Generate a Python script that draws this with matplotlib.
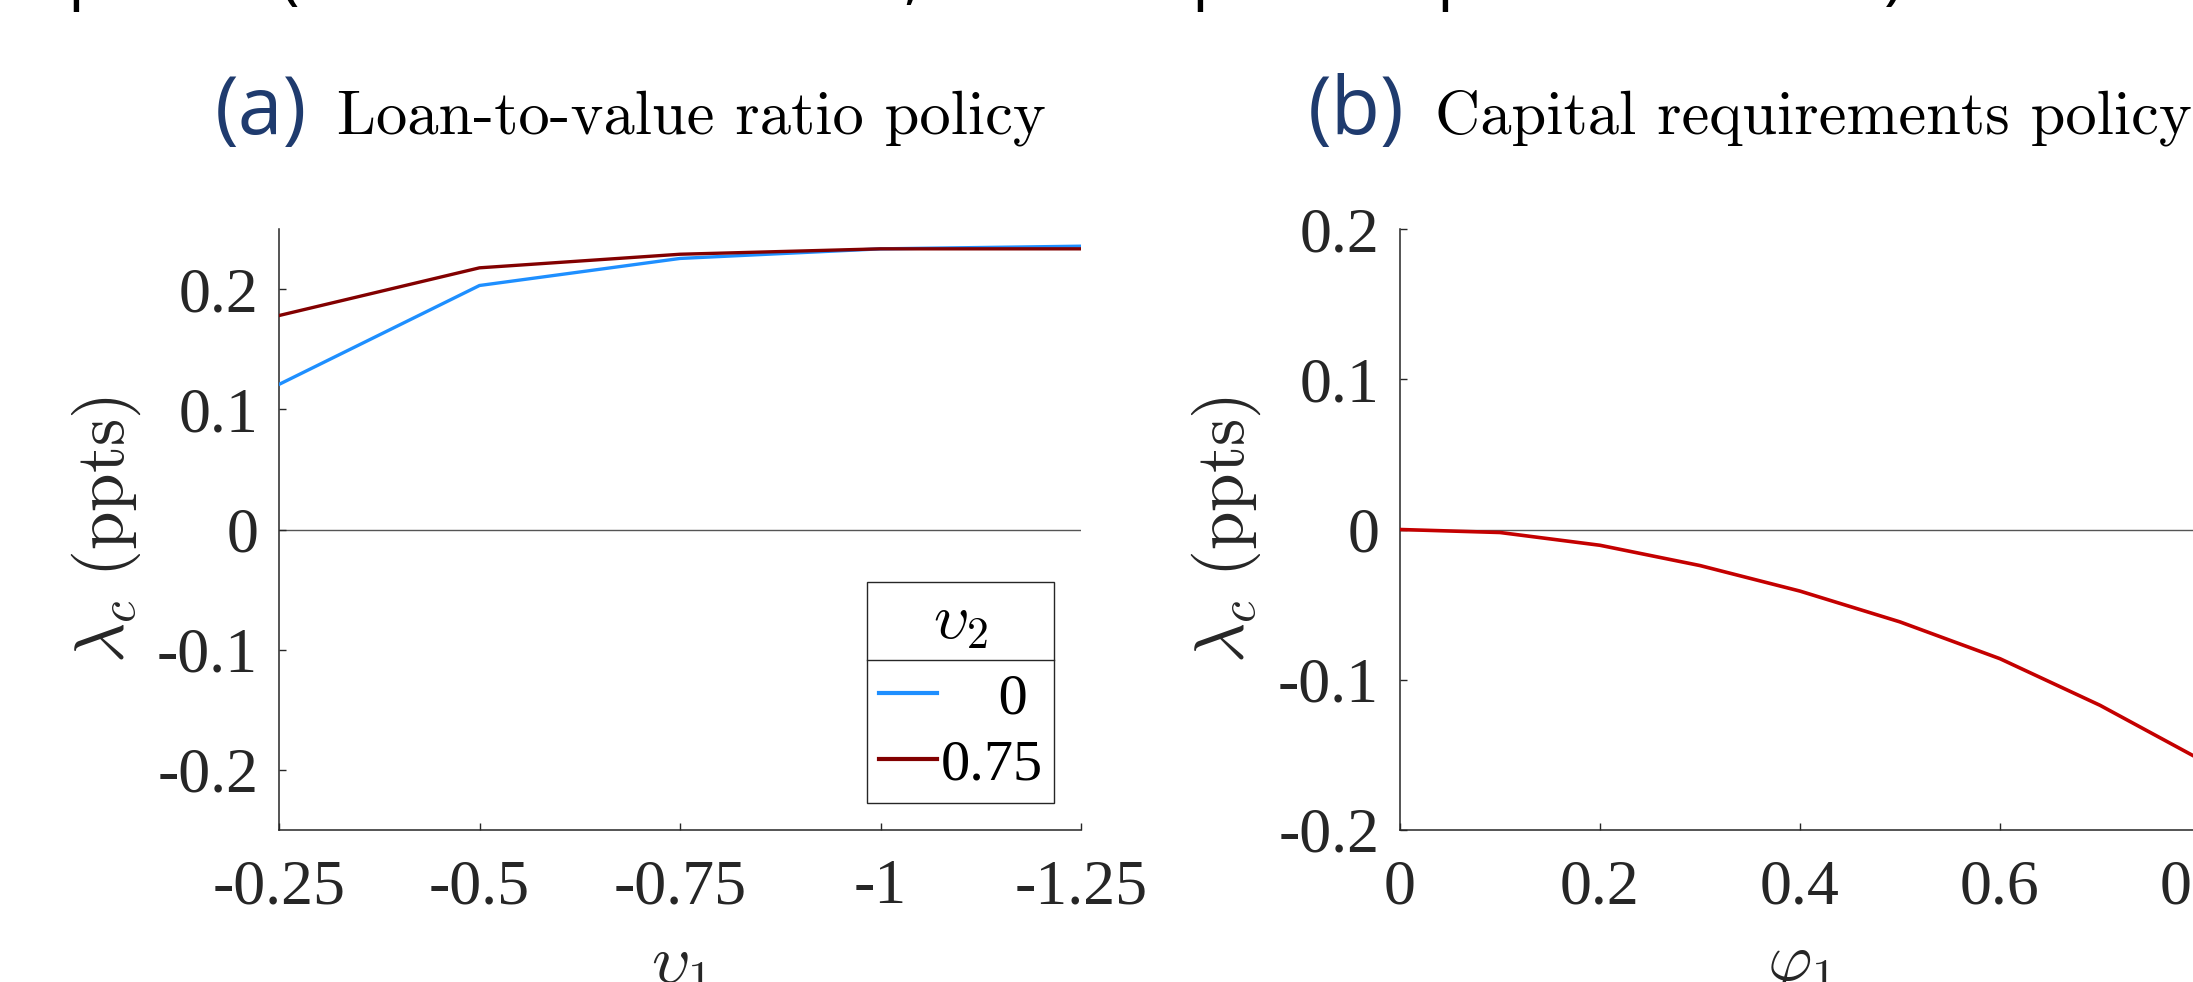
import matplotlib
matplotlib.use('Agg')
import matplotlib.pyplot as plt
from matplotlib.lines import Line2D

plt.rcParams['font.family'] = ['Liberation Serif', 'DejaVu Serif']
plt.rcParams['mathtext.fontset'] = 'cm'
plt.rcParams['axes.unicode_minus'] = False

# ---------------- data ----------------
ltv_v1 = [-0.25, -0.5, -0.75, -1.0, -1.25]
ltv_v2_values = [0, 0.75]
ltv_lambda_v2_0 = [0.1207, 0.203, 0.2255, 0.2335, 0.2357]
ltv_lambda_v2_075 = [0.178, 0.2177, 0.229, 0.2335, 0.2335]

cap_phi1 = [0.0, 0.1, 0.2, 0.3, 0.4, 0.5, 0.6, 0.7, 0.8]
cap_lambda = [0.0, -0.002, -0.0105, -0.024, -0.041, -0.0615, -0.086, -0.117, -0.153]

left_xticks = [-0.25, -0.5, -0.75, -1.0, -1.25]
left_xticklabels = ['-0.25', '-0.5', '-0.75', '-1', '-1.25']
left_yticks = [-0.2, -0.1, 0.0, 0.1, 0.2]
left_yticklabels = ['-0.2', '-0.1', '0', '0.1', '0.2']
right_xticks = [0.0, 0.2, 0.4, 0.6, 0.8]
right_xticklabels = ['0', '0.2', '0.4', '0.6', '0.8']
right_yticks = [-0.2, -0.1, 0.0, 0.1, 0.2]
right_yticklabels = ['-0.2', '-0.1', '0', '0.1', '0.2']

panel_tags = ['(a)', '(b)']
panel_titles = ['Loan-to-value ratio policy', 'Capital requirements policy']
ylabel_text = r'$\lambda_c\ (\mathrm{ppts})$'
xlabels = [r'$\upsilon_1$', r'$\varphi_1$']
legend_title = r'$\upsilon_2$'

# cropped header line (only the descenders are visible in the image)
header_glyphs = ['p', '(', ',', 'p', 'p', ')']
header_x_px = [67, 279, 903, 1191, 1436, 1884]

# ---------------- style ----------------
W, H = 2193, 982
AX_COL = '#262626'
BLUE = '#1E8FFF'
DARKRED = '#820000'
RED = '#C40000'
TAG_COL = '#1f3b6e'

fig = plt.figure(figsize=(W / 100, H / 100), dpi=100)
fig.patch.set_facecolor('white')

axL = fig.add_axes([279 / W, 1 - 830 / H, (1081 - 279) / W, (830 - 229) / H])
axR = fig.add_axes([1400 / W, 1 - 830 / H, (2200 - 1400) / W, (830 - 229) / H])


def style(ax):
    for s in ['top', 'right']:
        ax.spines[s].set_visible(False)
    for s in ['left', 'bottom']:
        ax.spines[s].set_color(AX_COL)
        ax.spines[s].set_linewidth(1.1)
    ax.tick_params(direction='in', length=5, width=1.0, color=AX_COL,
                   labelsize=46, labelcolor=AX_COL)
    ax.tick_params(axis='x', pad=21)
    ax.tick_params(axis='y', pad=15)
    ax.set_facecolor('white')


# ---- left panel ----
axL.axhline(0, color='#555555', lw=1.0, zorder=1)
l0, = axL.plot(ltv_v1, ltv_lambda_v2_0, color=BLUE, lw=2.4, zorder=3)
l1, = axL.plot(ltv_v1, ltv_lambda_v2_075, color=DARKRED, lw=2.4, zorder=4)
axL.set_xlim(-0.25, -1.25)
axL.set_ylim(-0.25, 0.25)
axL.set_xticks(left_xticks)
axL.set_xticklabels(left_xticklabels)
axL.set_yticks(left_yticks)
axL.set_yticklabels(left_yticklabels)
style(axL)

# ---- right panel ----
axR.axhline(0, color='#555555', lw=1.0, zorder=1)
axR.plot(cap_phi1, cap_lambda, color=RED, lw=2.6, zorder=3)
axR.set_xlim(0, 0.8)
axR.set_ylim(-0.2, 0.2)
axR.set_xticks(right_xticks)
axR.set_xticklabels(right_xticklabels)
axR.set_yticks(right_yticks)
axR.set_yticklabels(right_yticklabels)
style(axR)

# axis labels
for ax, xl, ylx in [(axL, xlabels[0], (106 - 279) / 802), (axR, xlabels[1], (1226 - 1400) / 800)]:
    ax.set_ylabel(ylabel_text, fontsize=50, color=AX_COL)
    ax.yaxis.label.set_verticalalignment('center')
    ax.yaxis.set_label_coords(ylx, 0.5)
    ax.set_xlabel(xl, fontsize=49, color=AX_COL)
    ax.xaxis.set_label_coords(0.5, -0.176)

# legend
labels = [f'{v:g}' for v in ltv_v2_values]
width = max(len(s) for s in labels)
labels = ['\u2007' * ((width - len(s)) * 2 // 3) + s for s in labels]
leg = axL.legend([l0, l1], labels, title=legend_title,
                 loc='lower right', prop={'size': 42},
                 title_fontsize=45, frameon=True, fancybox=False,
                 edgecolor=AX_COL, framealpha=1, handlelength=1.0,
                 handletextpad=0.05, borderaxespad=0.46, borderpad=0.2,
                 labelspacing=0.22)
leg.get_frame().set_linewidth(1.0)
leg._legend_box.sep = 0.26 * 42 * 100 / 72
for t in leg.get_texts():
    t.set_color('black')
for h in leg.legend_handles:
    h.set_linewidth(3.0)

# titles
ybase = 1 - 134 / H
for xt, xs, tag, title in [(215, 337, panel_tags[0], panel_titles[0]),
                           (1308, 1435, panel_tags[1], panel_titles[1])]:
    fig.text(xt / W, ybase, tag, fontsize=58, family='Open Sans', color=TAG_COL, va='baseline')
    fig.text(xs / W, ybase, title, fontsize=45, family='cmr10', color='black', va='baseline')

# cropped header
for g, xp in zip(header_glyphs, header_x_px):
    fig.text(xp / W, 1 + 4 / H, g, fontsize=48, family='Open Sans', color='black', va='baseline')

# divider line in legend between title and entries
fig.canvas.draw()
r = fig.canvas.get_renderer()
fb = leg.get_frame().get_window_extent(r)
tb = leg.get_title().get_window_extent(r)
ydiv = tb.y0 - 8
fig.add_artist(Line2D([fb.x0 / W, fb.x1 / W], [ydiv / H, ydiv / H],
                      transform=fig.transFigure, color=AX_COL, lw=1.0))

fig.savefig('out.png', dpi=100, facecolor='white')
